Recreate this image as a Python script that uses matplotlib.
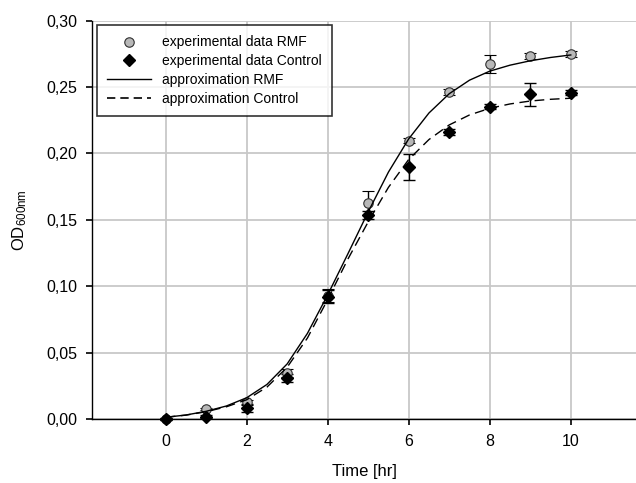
import matplotlib
matplotlib.use("Agg")
import matplotlib.pyplot as plt
from matplotlib.lines import Line2D

plt.rcParams['font.family'] = ['Liberation Sans', 'DejaVu Sans']
plt.rcParams['mathtext.fontset'] = 'custom'
plt.rcParams['mathtext.rm'] = 'Liberation Sans'
plt.rcParams['mathtext.it'] = 'Liberation Sans:italic'

# Experimental data
time_h = [0, 1, 2, 3, 4, 5, 6, 7, 8, 9, 10]
rmf_od = [0.000, 0.0075, 0.0125, 0.035, 0.093, 0.163, 0.2096, 0.2463, 0.2675, 0.2734, 0.2749]
rmf_err = [0.0005, 0.001, 0.002, 0.003, 0.005, 0.009, 0.002, 0.002, 0.007, 0.002, 0.002]
ctrl_od = [0.000, 0.0018, 0.0085, 0.0306, 0.092, 0.1536, 0.1898, 0.2162, 0.2352, 0.2446, 0.2458]
ctrl_err = [0.001, 0.001, 0.003, 0.003, 0.005, 0.003, 0.0098, 0.002, 0.002, 0.0085, 0.002]

# Approximation curves
fit_t = [0, 0.5, 1, 1.5, 2, 2.5, 3, 3.5, 4, 4.5, 5, 5.5, 6, 6.5, 7, 7.5, 8, 8.5, 9, 9.5, 10]
fit_rmf = [0.0013, 0.003, 0.0058, 0.0098, 0.016, 0.026, 0.0415, 0.0645, 0.0935, 0.1245, 0.1560,
           0.1860, 0.2110, 0.2305, 0.2450, 0.2552, 0.2620, 0.2665, 0.2698, 0.2723, 0.2742]
fit_ctrl = [0.0013, 0.0029, 0.0055, 0.0092, 0.0145, 0.024, 0.039, 0.061, 0.090, 0.1205, 0.1485,
            0.1745, 0.1955, 0.2105, 0.2215, 0.229, 0.234, 0.2373, 0.2395, 0.2408, 0.2416]

xticks = [0, 2, 4, 6, 8, 10]
yticks = [0.0, 0.05, 0.10, 0.15, 0.20, 0.25, 0.30]
ytick_labels = ['0,00', '0,05', '0,10', '0,15', '0,20', '0,25', '0,30']
legend_labels = ['experimental data RMF', 'experimental data Control',
                 'approximation RMF', 'approximation Control']

fig = plt.figure(figsize=(6.36, 4.83), dpi=100)
ax = fig.add_axes([92.3 / 636, 1 - 419 / 483, 1 - 92.3 / 636, (419 - 20.7) / 483])

ax.grid(True, color='#c8c8c8', linewidth=1.3, zorder=0)
ax.set_axisbelow(True)

rmf_style = dict(marker='o', markerfacecolor='#b8b8b8', markeredgecolor='#303030',
                 markeredgewidth=0.8, markersize=6.8)
ctrl_style = dict(marker='D', markerfacecolor='black', markeredgecolor='black', markersize=6.4)

ax.errorbar(time_h, rmf_od, yerr=rmf_err, linestyle='none', color='black', ecolor='black',
            capsize=4, elinewidth=1, capthick=1, zorder=3, clip_on=False, **rmf_style)
ax.errorbar(time_h, ctrl_od, yerr=ctrl_err, linestyle='none', color='black', ecolor='black',
            capsize=4, elinewidth=1, capthick=1, zorder=3, clip_on=False, **ctrl_style)
ax.plot(fit_t, fit_rmf, '-', color='black', linewidth=1.0, zorder=4)
ax.plot(fit_t, fit_ctrl, '--', color='black', linewidth=1.0, dashes=(7, 4), zorder=4)

ax.set_xlim(-1.81, 11.61)
ax.set_ylim(0, 0.30)
ax.set_xticks(xticks)
ax.set_yticks(yticks)
ax.set_yticklabels(ytick_labels)

for s in ['top', 'right']:
    ax.spines[s].set_visible(False)
for s in ['left', 'bottom']:
    ax.spines[s].set_color('black')
    ax.spines[s].set_linewidth(1.0)
ax.tick_params(axis='both', direction='out', length=4.5, width=1.2, labelsize=11.5,
               colors='black', pad=6)

ax.set_xlabel('Time [hr]', fontsize=12, labelpad=11)
ax.set_ylabel(r'OD$_{\mathrm{600nm}}$', fontsize=12, labelpad=13)

handles = [
    Line2D([], [], linestyle='none', color='black', **rmf_style),
    Line2D([], [], linestyle='none', color='black', **ctrl_style),
    Line2D([], [], linestyle='-', color='black', linewidth=1.0),
    Line2D([], [], linestyle='--', color='black', linewidth=1.2, dashes=(5, 3)),
]
leg = ax.legend(handles, legend_labels, loc='upper left', bbox_to_anchor=(0.0086, 0.989),
                fontsize=10, frameon=True, fancybox=False, edgecolor='black',
                handlelength=3.15, handletextpad=0.8, labelspacing=0.35,
                borderpad=0.75, borderaxespad=0)
leg.get_frame().set_linewidth(1.2)

fig.savefig('out.png', dpi=100)
